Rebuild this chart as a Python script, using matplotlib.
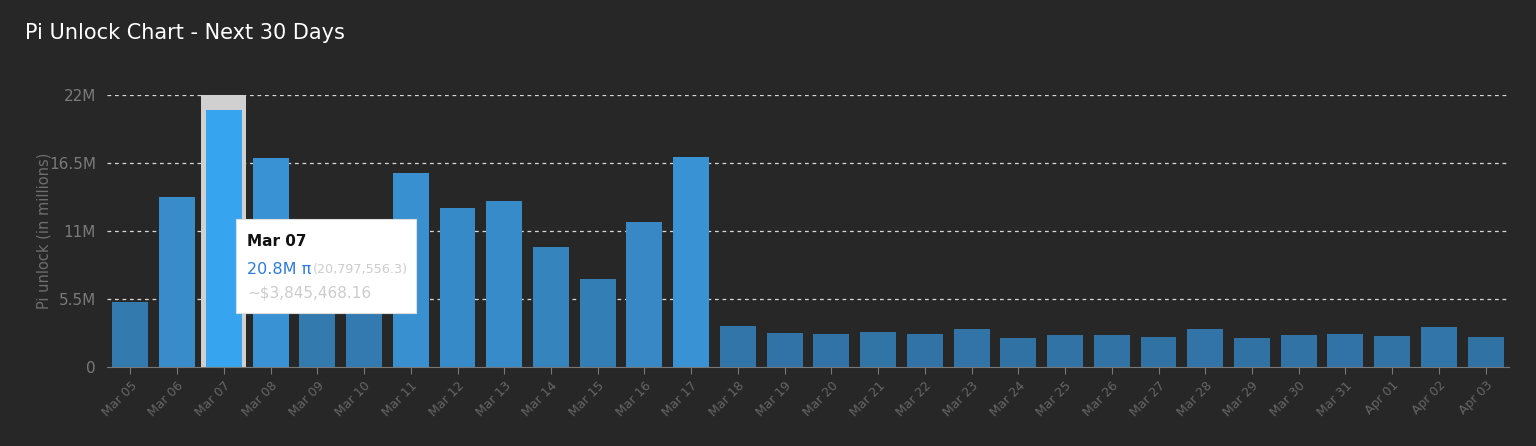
import matplotlib
matplotlib.use("Agg")
import matplotlib.pyplot as plt
import numpy as np
from matplotlib.colors import to_rgb
from matplotlib.patches import FancyBboxPatch

dates = ["Mar 05","Mar 06","Mar 07","Mar 08","Mar 09","Mar 10","Mar 11","Mar 12","Mar 13","Mar 14",
         "Mar 15","Mar 16","Mar 17","Mar 18","Mar 19","Mar 20","Mar 21","Mar 22","Mar 23","Mar 24",
         "Mar 25","Mar 26","Mar 27","Mar 28","Mar 29","Mar 30","Mar 31","Apr 01","Apr 02","Apr 03"]
values = [5.26,13.75,20.8,16.9,5.3,5.4,15.7,12.9,13.4,9.7,
          7.1,11.7,17.0,3.3,2.75,2.67,2.83,2.67,3.07,2.35,
          2.6,2.6,2.43,3.07,2.35,2.6,2.67,2.5,3.24,2.43]
yticks = [0,5.5,11,16.5,22]
yticklabels = ["0","5.5M","11M","16.5M","22M"]
highlight = 2

bg = "#272727"
fig = plt.figure(figsize=(15.36,4.46), dpi=100, facecolor=bg)
ax = fig.add_axes([107/1536, 1-367/446, (1509-107)/1536, (367-95)/446])
ax.set_facecolor(bg)
x = np.arange(len(values))
lo = np.array(to_rgb("#2f6a98")); hi = np.array(to_rgb("#3b99de"))
vmax = max(values)
ax.set_xlim(-0.5, len(values)-0.5)
ax.set_ylim(0, 22)
for yt in yticks[1:]:
    ax.axhline(yt, color="#d8d8d8", lw=0.9, ls=(0,(3,3)), zorder=0)
ax.bar(highlight, 22, width=0.97, color="#d0d0d0", zorder=1)
cols = []
for i, v in enumerate(values):
    t = (v/vmax)**0.8
    c = lo + (hi-lo)*t
    if i == highlight:
        c = to_rgb("#36a4ee")
    cols.append(c)
ax.bar(x, values, width=0.77, color=cols, zorder=2)
for s in ["top","right","left"]:
    ax.spines[s].set_visible(False)
ax.spines["bottom"].set_color("#777777")
ax.set_yticks(yticks)
ax.set_yticklabels(yticklabels, color="#7a7a7a", fontsize=11)
ax.tick_params(axis="y", length=0, pad=8)
ax.set_xticks(x)
ax.set_xticklabels(dates, rotation=45, ha="right", rotation_mode="anchor", color="#666666", fontsize=9)
ax.tick_params(axis="x", color="#777777", length=5)
ax.set_ylabel("Pi unlock (in millions)", color="#6e6e6e", fontsize=10.5, labelpad=-2)
fig.text(25/1536, 1-33/446, "Pi Unlock Chart - Next 30 Days", color="white", fontsize=15, va="center")

# tooltip
tx0, ty0, tw, th = 236/1536, 1-313/446, 180/1536, 94/446
fig.patches.append(FancyBboxPatch((tx0, ty0), tw, th, boxstyle="square,pad=0", transform=fig.transFigure,
                                  facecolor="white", edgecolor="#dddddd", lw=0.8, zorder=10))
fig.text(247/1536, 1-241/446, dates[highlight], color="#111111", fontsize=11, fontweight="bold", va="center", zorder=11)
fig.text(247/1536, 1-270/446, "20.8M π", color="#2a7be4", fontsize=11.5, va="center", zorder=11)
fig.text(313/1536, 1-270/446, "(20,797,556.3)", color="#cccccc", fontsize=9.2, va="center", zorder=11)
fig.text(247/1536, 1-293/446, "~$3,845,468.16", color="#cccccc", fontsize=11, va="center", zorder=11)
fig.savefig("out.png", dpi=100, facecolor=bg)
